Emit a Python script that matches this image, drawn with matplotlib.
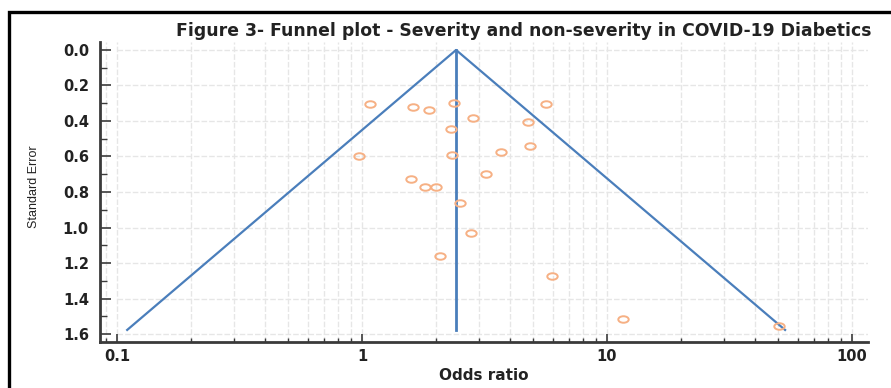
import numpy as np
import matplotlib.pyplot as plt
from matplotlib.path import Path
from matplotlib.transforms import Affine2D
from matplotlib.patches import Rectangle

# study estimates
odds_ratio = [1.08, 1.62, 1.88, 2.375, 2.85, 2.30, 4.77, 5.64, 0.97, 2.32, 3.68,
              4.85, 1.58, 1.80, 2.00, 3.20, 2.51, 2.78, 2.08, 5.98, 11.6, 50.5]
std_error = [0.304, 0.323, 0.338, 0.300, 0.383, 0.447, 0.407, 0.304, 0.597, 0.592, 0.576,
             0.539, 0.725, 0.770, 0.770, 0.697, 0.860, 1.031, 1.161, 1.273, 1.515, 1.555]

# pseudo 95% confidence funnel and pooled estimate
funnel_or = [0.11, 2.42, 53.3]
funnel_se = [1.577, 0.0, 1.577]
pooled_or = [2.42, 2.42]
pooled_se = [0.0, 1.577]

yticks = [0.0, 0.2, 0.4, 0.6, 0.8, 1.0, 1.2, 1.4, 1.6]
xticks = [0.1, 1, 10, 100]
xticklabels = ['0.1', '1', '10', '100']

W, H = 891, 388
fig = plt.figure(figsize=(W / 100, H / 100), dpi=100)
ax = fig.add_axes([100 / W, 46 / H, 768 / W, 300 / H])

ax.set_xscale('log')
ax.set_xlim(0.0852, 116.2)
ax.set_ylim(1.645, -0.045)

# grid
gcol = '#e6e6e6'
ax.grid(axis='x', which='both', color=gcol, linestyle=(0, (4, 1.5)), linewidth=1.0)
ax.hlines(yticks, 0.1, 116.2, color=gcol, linestyle=(0, (4, 1.5)), linewidth=1.0, zorder=0)
ax.set_axisbelow(True)

blue = '#4a7ebb'
ax.plot(funnel_or, funnel_se, color=blue, lw=1.6, zorder=2)
ax.plot(pooled_or, pooled_se, color=blue, lw=2.0, zorder=2)

ellipse = Path.unit_circle().transformed(Affine2D().scale(1.6, 1.0))
ax.plot(odds_ratio, std_error, linestyle='none', marker=ellipse, markersize=7.5,
        markerfacecolor='none', markeredgecolor='#f6b084', markeredgewidth=1.4, zorder=3)

# axes styling
for s in ['top', 'right']:
    ax.spines[s].set_visible(False)
for s in ['left', 'bottom']:
    ax.spines[s].set_linewidth(2.0)
    ax.spines[s].set_color('#3a3a3a')

ax.set_yticks(yticks)
ax.set_yticklabels(['%.1f' % v for v in yticks])
ax.set_yticks(np.arange(0.1, 1.6, 0.2), minor=True)
ax.set_xticks(xticks)
ax.set_xticklabels(xticklabels)
ax.tick_params(axis='y', which='major', direction='in', length=8, width=1.2, pad=8, colors='#3a3a3a')
ax.tick_params(axis='y', which='minor', direction='in', length=5, width=1.0, colors='#3a3a3a')
ax.tick_params(axis='x', which='major', direction='in', length=6, width=1.2, pad=5, colors='#3a3a3a')
ax.tick_params(axis='x', which='minor', direction='in', length=3, width=1.0, colors='#3a3a3a')
for lab in ax.get_xticklabels() + ax.get_yticklabels():
    lab.set_fontweight('bold')
    lab.set_fontsize(10.5)
    lab.set_color('#222222')

ax.set_xlabel('Odds ratio', fontsize=11, fontweight='bold', color='#222222', labelpad=3)
fig.text(34 / W, 1 - 187 / H, 'Standard Error', rotation=90, ha='center', va='center',
         fontsize=9, family=['Liberation Sans', 'DejaVu Sans'], color='#222222')

fig.text(871 / W, 1 - 31 / H,
         'Figure 3- Funnel plot - Severity and non-severity in COVID-19 Diabetics',
         ha='right', va='center', fontsize=12.4, fontweight='bold', color='#222222')

# outer frame
fig.patches.append(Rectangle((9 / W, -0.1), 1.2, 1 - 12 / H + 0.1, transform=fig.transFigure,
                             fill=False, edgecolor='black', linewidth=2.4))

fig.savefig('out.png', dpi=100)
